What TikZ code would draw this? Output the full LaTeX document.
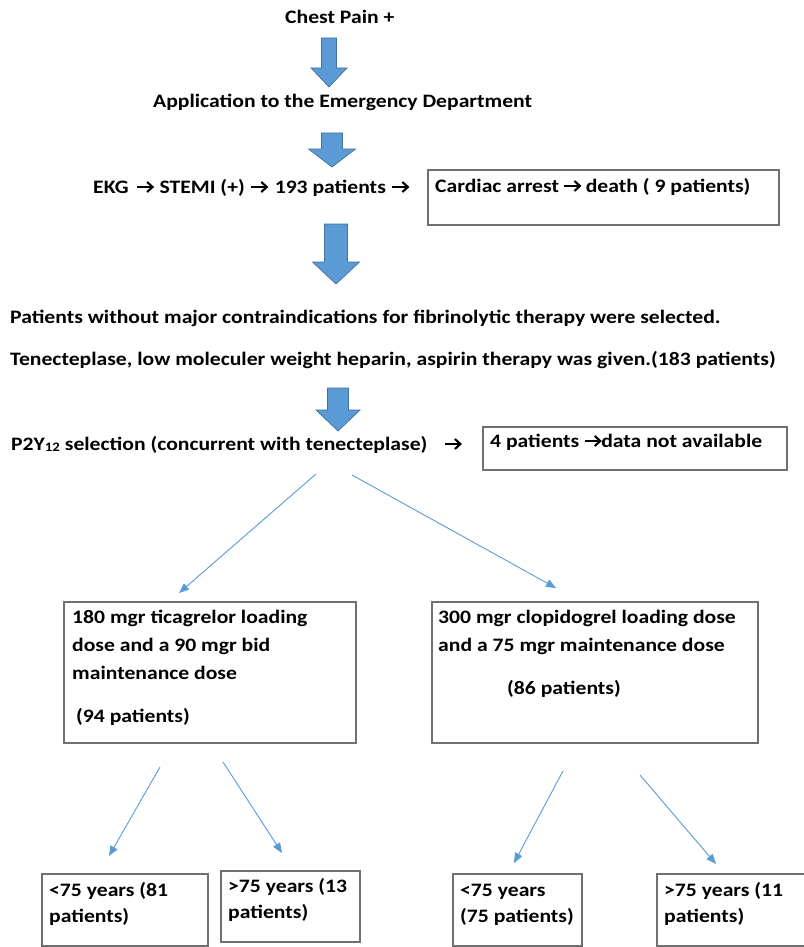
\documentclass[tikz,border=0pt]{standalone}
\usepackage{fontspec}
\setmainfont{Carlito}[FakeStretch=1.14]
\usetikzlibrary{arrows.meta}
\definecolor{arrowblue}{HTML}{5B9BD5}
\definecolor{arrowedge}{HTML}{41719C}
\definecolor{boxedge}{HTML}{707070}
\newsavebox{\rabox}
\newcommand{\ra}{\usebox{\rabox}}
\newcommand{\bigarrow}[7]{%
  % #1 name, #2 cx, #3 top, #4 headstart, #5 tip, #6 half shaft, #7 half head
  \draw[blockarrow] (#2-#6,#3) -- (#2+#6,#3) -- (#2+#6,#4) -- (#2+#7,#4)
    -- (#2,#5) coordinate (#1) -- (#2-#7,#4) -- (#2-#6,#4) -- cycle;}
\begin{document}
\sbox{\rabox}{\begin{pgfpicture}%
  \pgfsetbaseline{0pt}%
  \pgfpathrectangle{\pgfpoint{-0.5pt}{0pt}}{\pgfpoint{17pt}{10pt}}%
  \pgfusepath{use as bounding box}%
  \pgfsetlinewidth{2.1pt}%
  \pgfsetmiterjoin
  \pgfpathmoveto{\pgfpoint{0pt}{6pt}}%
  \pgfpathlineto{\pgfpoint{14pt}{6pt}}%
  \pgfusepath{stroke}%
  \pgfpathmoveto{\pgfpoint{10pt}{11pt}}%
  \pgfpathlineto{\pgfpoint{15.5pt}{6pt}}%
  \pgfpathlineto{\pgfpoint{10pt}{1pt}}%
  \pgfusepath{stroke}%
\end{pgfpicture}}
\begin{tikzpicture}[x=1pt,y=-1pt,
  txt/.style={inner sep=0pt,font=\bfseries\fontsize{19}{23}\selectfont},
  boxframe/.style={draw=boxedge,line width=1.1pt},
  blockarrow/.style={fill=arrowblue,draw=arrowedge,line width=0.7pt,line join=miter},
  thin/.style={draw=arrowblue,line width=0.9pt,-{Triangle[length=10pt,width=8pt]}}]
\useasboundingbox (0,0) rectangle (803,947);
\fill[white] (0,0) rectangle (803,947);

% text lines
\node[txt,anchor=base west] (chest) at (285,24) {Chest Pain +};
\node[txt,anchor=base west] (app) at (153,108) {Application to the Emergency Department};
\node[txt,anchor=base west] (ekg) at (93,193) {EKG\hspace{8pt}\ra\hspace{6pt}STEMI (+)\hspace{6pt}\ra\hspace{7pt}193 patients\hspace{6pt}\ra};
\node[txt,anchor=base west] (sel) at (10,323) {Patients without major contraindications for fibrinolytic therapy were selected.};
\node[txt,anchor=base west] (ten) at (10,365) {Tenecteplase, low moleculer weight heparin, aspirin therapy was given.(183 patients)};
\node[txt,anchor=base west] (p2y) at (11,450) {P2Y{\fontsize{13}{13}\selectfont\raisebox{-1.5pt}{12}} selection (concurrent with tenecteplase)\hspace{17pt}\ra};

% boxes
\draw[boxframe] (428,170) rectangle (779,225);
\node[txt,anchor=base west] (death) at (435,192) {Cardiac arrest \ra{} death ( 9 patients)};

\draw[boxframe] (483,427) rectangle (787,470);
\node[txt,anchor=base west] (na) at (490,447) {4 patients \ra{}data not available};

\draw[boxframe] (64,602) rectangle (356,743);
\node[txt,anchor=base west] (t1) at (72,623) {180 mgr ticagrelor loading};
\node[txt,anchor=base west] (t2) at (72,651) {dose and a 90 mgr bid};
\node[txt,anchor=base west] (t3) at (72,679) {maintenance dose};
\node[txt,anchor=base west] (t4) at (76,722) {(94 patients)};

\draw[boxframe] (432,602) rectangle (758,743);
\node[txt,anchor=base west] (c1) at (438,623) {300 mgr clopidogrel loading dose};
\node[txt,anchor=base west] (c2) at (438,651) {and a 75 mgr maintenance dose};
\node[txt,anchor=base west] (c3) at (507,694) {(86 patients)};

\draw[boxframe] (42,874) rectangle (208,946);
\node[txt,anchor=base west] (a1) at (49,896) {<75 years (81};
\node[txt,anchor=base west] (a2) at (49,922) {patients)};

\draw[boxframe] (221,871) rectangle (360,942);
\node[txt,anchor=base west] (b1) at (228,892) {>75 years (13};
\node[txt,anchor=base west] (b2) at (228,918) {patients)};

\draw[boxframe] (453,874) rectangle (582,946);
\node[txt,anchor=base west] (d1) at (460,896) {<75 years};
\node[txt,anchor=base west] (d2) at (460,922) {(75 patients)};

\draw[boxframe] (657,874) rectangle (820,946);
\node[txt,anchor=base west] (e1) at (664,896) {>75 years (11};
\node[txt,anchor=base west] (e2) at (664,922) {patients)};

% block arrows
\bigarrow{ar1}{329}{38}{68}{87}{7.5}{18}
\bigarrow{ar2}{332}{133}{149}{167}{10.5}{23.5}
\bigarrow{ar3}{336}{224}{262}{284}{11.5}{23.5}
\bigarrow{ar4}{338}{388}{410}{431}{10.5}{22}

% thin connectors
\coordinate (s1) at (316,474); \coordinate (e1c) at (179,593);
\coordinate (s2) at (352,475); \coordinate (e2c) at (556,588);
\draw[thin] (s1) -- (e1c);
\draw[thin] (s2) -- (e2c);

\coordinate (s3) at (160,767); \coordinate (e3c) at (109,856);
\coordinate (s4) at (223,762); \coordinate (e4c) at (282,853);
\coordinate (s5) at (563,771); \coordinate (e5c) at (514,863);
\coordinate (s6) at (640,775); \coordinate (e6c) at (716,864);
\draw[thin] (s3) -- (e3c);
\draw[thin] (s4) -- (e4c);
\draw[thin] (s5) -- (e5c);
\draw[thin] (s6) -- (e6c);
\end{tikzpicture}
\end{document}
